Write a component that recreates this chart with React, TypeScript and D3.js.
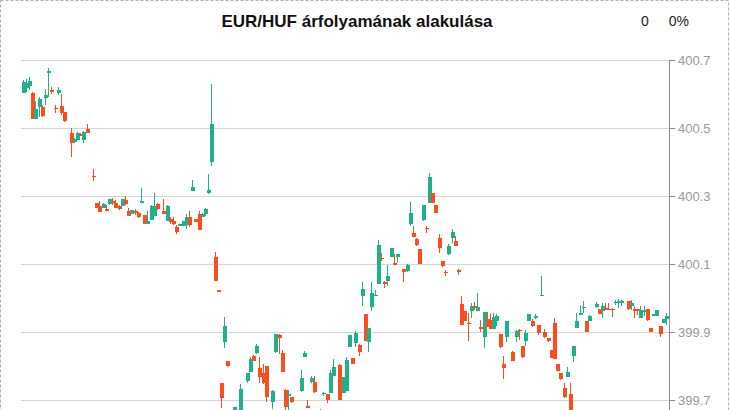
import React from "react"
import * as d3 from "d3"

// [slot, open, high, low, close]
type Candle = [number, number, number, number, number]

const segA: Candle[] = [
  [0, 400.604, 400.641, 400.603, 400.636],
  [1, 400.617, 400.643, 400.606, 400.633],
  [2, 400.624, 400.649, 400.612, 400.638],
  [3, 400.604, 400.606, 400.527, 400.527],
  [4, 400.527, 400.579, 400.527, 400.556],
  [5, 400.563, 400.59, 400.533, 400.586],
  [6, 400.562, 400.568, 400.533, 400.535],
  [7, 400.589, 400.614, 400.568, 400.597],
  [8, 400.663, 400.677, 400.591, 400.668],
  [9, 400.612, 400.621, 400.6, 400.607],
  [10, 400.559, 400.568, 400.545, 400.556],
  [11, 400.604, 400.621, 400.597, 400.612],
  [12, 400.565, 400.6, 400.538, 400.545],
  [13, 400.548, 400.548, 400.519, 400.521],
  [15, 400.485, 400.501, 400.416, 400.457],
  [16, 400.46, 400.47, 400.457, 400.468],
  [17, 400.465, 400.488, 400.465, 400.485],
  [18, 400.482, 400.484, 400.477, 400.477],
  [19, 400.465, 400.49, 400.457, 400.488],
  [20, 400.498, 400.512, 400.485, 400.485],
]

const segB: Candle[] = [
  [22, 400.36, 400.379, 400.345, 400.357],
  [23, 400.279, 400.279, 400.266, 400.266],
  [24, 400.271, 400.285, 400.254, 400.254],
  [25, 400.266, 400.28, 400.266, 400.276],
  [26, 400.262, 400.275, 400.257, 400.257],
  [27, 400.276, 400.291, 400.275, 400.291],
  [28, 400.285, 400.295, 400.273, 400.279],
  [29, 400.279, 400.288, 400.264, 400.266],
  [30, 400.271, 400.273, 400.259, 400.261],
  [31, 400.271, 400.292, 400.271, 400.29],
  [32, 400.288, 400.3, 400.273, 400.276],
  [33, 400.256, 400.266, 400.242, 400.242],
  [34, 400.247, 400.259, 400.247, 400.259],
  [35, 400.257, 400.262, 400.244, 400.249],
  [36, 400.251, 400.253, 400.236, 400.239],
  [37, 400.282, 400.324, 400.28, 400.284],
  [38, 400.244, 400.244, 400.218, 400.218],
  [39, 400.218, 400.256, 400.218, 400.226],
  [40, 400.229, 400.274, 400.229, 400.271],
  [41, 400.241, 400.31, 400.241, 400.271],
  [42, 400.277, 400.28, 400.259, 400.262],
  [44, 400.256, 400.291, 400.247, 400.247],
  [45, 400.227, 400.274, 400.226, 400.271],
  [46, 400.232, 400.239, 400.217, 400.224],
  [47, 400.226, 400.239, 400.215, 400.218],
  [48, 400.21, 400.215, 400.188, 400.195],
  [49, 400.213, 400.218, 400.213, 400.218],
  [50, 400.213, 400.226, 400.213, 400.226],
  [51, 400.215, 400.246, 400.203, 400.237],
  [52, 400.237, 400.256, 400.21, 400.215],
  [53, 400.316, 400.347, 400.316, 400.326],
  [54, 400.232, 400.232, 400.224, 400.224],
  [55, 400.247, 400.256, 400.2, 400.2],
  [56, 400.239, 400.25, 400.239, 400.247],
  [57, 400.247, 400.265, 400.241, 400.262],
  [58, 400.31, 400.365, 400.306, 400.318],
  [59, 400.401, 400.629, 400.388, 400.512],
]

const segC: Candle[] = [
  [60, 400.12, 400.136, 400.051, 400.051],
  [61, 400.024, 400.024, 400.019, 400.019],
  [62, 399.75, 399.75, 399.676, 399.706],
  [63, 399.872, 399.945, 399.852, 399.918],
  [64, 399.815, 399.815, 399.797, 399.8],
  [66, 399.65, 399.679, 399.64, 399.679],
  [68, 399.64, 399.746, 399.63, 399.732],
  [70, 399.756, 399.78, 399.749, 399.78],
  [71, 399.783, 399.827, 399.783, 399.821],
  [72, 399.829, 399.832, 399.815, 399.816],
  [73, 399.837, 399.866, 399.836, 399.859],
  [74, 399.795, 399.827, 399.749, 399.767],
  [75, 399.779, 399.806, 399.746, 399.749],
  [76, 399.8, 399.8, 399.693, 399.708],
  [78, 399.693, 399.73, 399.674, 399.727],
  [79, 399.842, 399.894, 399.838, 399.894],
  [80, 399.891, 399.894, 399.835, 399.882],
  [81, 399.837, 399.847, 399.783, 399.783],
  [82, 399.729, 399.732, 399.667, 399.68],
  [83, 399.712, 399.729, 399.667, 399.718],
  [84, 399.71, 399.71, 399.69, 399.695],
  [87, 399.727, 399.788, 399.724, 399.764],
  [88, 399.827, 399.845, 399.827, 399.837],
  [89, 399.682, 399.7, 399.676, 399.676],
  [90, 399.752, 399.771, 399.749, 399.764],
  [91, 399.754, 399.77, 399.72, 399.724],
  [93, 399.672, 399.674, 399.65, 399.66],
  [94, 399.718, 399.724, 399.712, 399.721],
  [95, 399.718, 399.718, 399.69, 399.7],
  [96, 399.721, 399.788, 399.721, 399.78],
  [97, 399.772, 399.821, 399.772, 399.796],
  [99, 399.803, 399.806, 399.7, 399.7],
  [100, 399.721, 399.767, 399.721, 399.767],
  [101, 399.727, 399.827, 399.727, 399.818],
  [102, 399.855, 399.891, 399.855, 399.891],
  [103, 399.824, 399.824, 399.806, 399.806],
  [104, 399.867, 399.902, 399.856, 399.896],
  [105, 399.862, 399.865, 399.83, 399.842],
  [106, 400.006, 400.048, 399.977, 400.026],
  [107, 399.952, 399.952, 399.873, 399.874],
  [108, 399.872, 399.913, 399.842, 399.913],
  [109, 399.974, 400.046, 399.963, 400.014],
  [110, 400.006, 400.024, 400.006, 400.01],
  [111, 400.041, 400.171, 400.041, 400.156],
]

const segD: Candle[] = [
  [112, 400.119, 400.131, 400.11, 400.114],
  [113, 400.046, 400.05, 400.03, 400.04],
  [114, 400.051, 400.097, 400.036, 400.065],
  [115, 400.122, 400.146, 400.12, 400.146],
  [116, 400.102, 400.129, 400.097, 400.097],
  [117, 400.12, 400.129, 400.104, 400.129],
  [119, 400.085, 400.085, 400.048, 400.076],
  [120, 400.08, 400.1, 400.076, 400.097],
  [121, 400.218, 400.283, 400.212, 400.251],
  [122, 400.192, 400.212, 400.18, 400.18],
  [123, 400.174, 400.177, 400.153, 400.156],
  [124, 400.144, 400.144, 400.1, 400.1],
  [125, 400.229, 400.274, 400.227, 400.274],
  [126, 400.207, 400.212, 400.192, 400.202],
  [127, 400.279, 400.369, 400.278, 400.357],
  [128, 400.308, 400.308, 400.28, 400.28],
  [129, 400.274, 400.274, 400.249, 400.251],
  [130, 400.176, 400.188, 400.131, 400.148],
  [131, 400.109, 400.109, 400.092, 400.095],
  [132, 400.077, 400.082, 400.065, 400.073],
  [133, 400.129, 400.159, 400.126, 400.153],
  [134, 400.177, 400.202, 400.163, 400.195],
  [135, 400.169, 400.182, 400.154, 400.154],
  [136, 400.082, 400.085, 400.067, 400.078],
  [137, 399.982, 400.006, 399.921, 399.921],
  [138, 399.962, 399.962, 399.932, 399.932],
  [139, 399.927, 399.955, 399.874, 399.924],
  [140, 399.963, 399.986, 399.942, 399.976],
  [141, 399.976, 399.987, 399.965, 399.973],
  [142, 399.963, 400.014, 399.963, 399.973],
  [143, 399.916, 399.935, 399.901, 399.909],
  [144, 399.886, 399.958, 399.854, 399.958],
  [145, 399.937, 399.958, 399.916, 399.916],
  [146, 399.935, 399.955, 399.909, 399.909],
  [147, 399.909, 399.955, 399.908, 399.943],
  [148, 399.933, 399.952, 399.919, 399.948],
  [149, 399.894, 399.894, 399.853, 399.855],
  [150, 399.806, 399.829, 399.762, 399.795],
  [151, 399.886, 399.933, 399.871, 399.932],
  [153, 399.842, 399.845, 399.815, 399.815],
  [154, 399.886, 399.906, 399.871, 399.903],
  [155, 399.906, 399.909, 399.876, 399.902],
  [156, 399.859, 399.859, 399.825, 399.826],
  [157, 399.874, 399.906, 399.859, 399.896],
  [158, 399.932, 399.953, 399.932, 399.953],
  [159, 399.932, 399.938, 399.915, 399.919],
  [160, 399.943, 399.952, 399.939, 399.947],
  [161, 399.921, 399.921, 399.892, 399.896],
  [162, 400.006, 400.065, 400.006, 400.009],
  [163, 399.901, 399.909, 399.883, 399.886],
  [164, 399.883, 399.883, 399.871, 399.874],
  [165, 399.847, 399.847, 399.824, 399.824],
  [166, 399.927, 399.941, 399.821, 399.821],
  [167, 399.805, 399.806, 399.786, 399.786],
  [168, 399.779, 399.779, 399.759, 399.762],
  [169, 399.736, 399.75, 399.706, 399.71],
  [170, 399.769, 399.796, 399.767, 399.782],
  [171, 399.718, 399.75, 399.63, 399.64],
  [172, 399.829, 399.859, 399.812, 399.859],
  [173, 399.913, 399.955, 399.911, 399.932],
  [174, 399.951, 399.979, 399.951, 399.955],
  [175, 399.971, 399.992, 399.955, 399.974],
  [176, 399.932, 399.932, 399.901, 399.901],
  [177, 399.933, 399.95, 399.933, 399.947],
  [179, 399.974, 399.989, 399.972, 399.982],
  [180, 399.967, 399.969, 399.952, 399.953],
  [181, 399.963, 399.984, 399.94, 399.977],
  [182, 399.97, 399.984, 399.965, 399.967],
  [183, 399.969, 399.984, 399.965, 399.967],
  [184, 399.968, 399.971, 399.945, 399.965],
  [185, 399.984, 399.993, 399.98, 399.989],
  [186, 399.987, 399.998, 399.971, 399.99],
  [187, 399.988, 399.995, 399.977, 399.99],
  [189, 399.992, 399.992, 399.966, 399.967],
  [190, 399.977, 399.994, 399.965, 399.984],
  [191, 399.967, 399.976, 399.942, 399.963],
  [192, 399.967, 399.967, 399.95, 399.963],
  [193, 399.94, 399.976, 399.94, 399.965],
  [194, 399.96, 399.976, 399.947, 399.965],
  [195, 399.967, 399.967, 399.932, 399.935],
  [196, 399.911, 399.911, 399.899, 399.899],
  [197, 399.949, 399.952, 399.949, 399.952],
  [198, 399.948, 399.965, 399.948, 399.965],
  [199, 399.919, 399.919, 399.884, 399.893],
  [200, 399.927, 399.937, 399.927, 399.937],
  [201, 399.938, 399.955, 399.921, 399.947],
]

const yTicks = [400.7, 400.5, 400.3, 400.1, 399.9, 399.7, 399.5]

const title = "EUR/HUF árfolyamának alakulása"
const changeValue = "0"
const changePct = "0%"

const UP = "#1db28c"
const DOWN = "#fb4d1e"

const width = 730
const height = 520

const App = () => {
  const data = [...segA, ...segB, ...segC, ...segD]

  const x = d3.scaleLinear().domain([0, 201]).range([22.5, 666])
  const y = d3.scaleLinear().domain([399.5, 400.7]).range([468, 60])

  const plotLeft = 21
  const axisX = 669
  const bodyW = 4

  return (
    <div style={{ position: "absolute", left: 0, top: 0 }}>
      <svg width={width} height={height} style={{ display: "block" }}>
        <rect
          x={0.5}
          y={0.5}
          width={728}
          height={height - 2}
          fill="#fff"
          stroke="#b0b0b0"
          strokeDasharray="3,2"
        />
        <text
          x={357}
          y={27}
          textAnchor="middle"
          fontFamily="Liberation Sans, Arial, sans-serif"
          fontWeight="bold"
          fontSize={17}
          fill="#111"
        >
          {title}
        </text>
        <text
          x={645}
          y={26}
          textAnchor="middle"
          fontFamily="Liberation Sans, Arial, sans-serif"
          fontSize={14}
          fill="#222"
        >
          {changeValue}
        </text>
        <text
          x={689}
          y={26}
          textAnchor="end"
          fontFamily="Liberation Sans, Arial, sans-serif"
          fontSize={14}
          fill="#222"
        >
          {changePct}
        </text>

        {/* grid */}
        <g shapeRendering="crispEdges">
          {yTicks.map((t) => (
            <line
              key={t}
              x1={plotLeft}
              x2={axisX}
              y1={Math.round(y(t)) + 0.5}
              y2={Math.round(y(t)) + 0.5}
              stroke="#d6d6d6"
            />
          ))}
        </g>

        {/* candles */}
        <g shapeRendering="crispEdges">
          {data.map(([s, o, h, l, c]) => {
            const cx = Math.round(x(s))
            const col = c < o ? DOWN : UP
            const top = y(Math.max(o, c))
            const bot = y(Math.min(o, c))
            return (
              <g key={s}>
                <line x1={cx + 0.5} x2={cx + 0.5} y1={y(h)} y2={y(l)} stroke={col} />
                <rect
                  x={cx - bodyW / 2 + 0.5}
                  y={top}
                  width={bodyW}
                  height={Math.max(1.5, bot - top)}
                  fill={col}
                />
              </g>
            )
          })}
        </g>

        {/* right axis */}
        <g shapeRendering="crispEdges">
          <line x1={axisX + 0.5} x2={axisX + 0.5} y1={60} y2={height} stroke="#8c8c8c" />
          {yTicks.map((t) => (
            <g key={t}>
              <line
                x1={axisX}
                x2={axisX + 6}
                y1={Math.round(y(t)) + 0.5}
                y2={Math.round(y(t)) + 0.5}
                stroke="#8c8c8c"
              />
              <text
                x={axisX + 9}
                y={y(t) + 4.5}
                fontFamily="Liberation Sans, Arial, sans-serif"
                fontSize={13}
                fill="#999"
                shapeRendering="auto"
              >
                {t.toFixed(1)}
              </text>
            </g>
          ))}
        </g>
      </svg>
    </div>
  )
}

export default App
